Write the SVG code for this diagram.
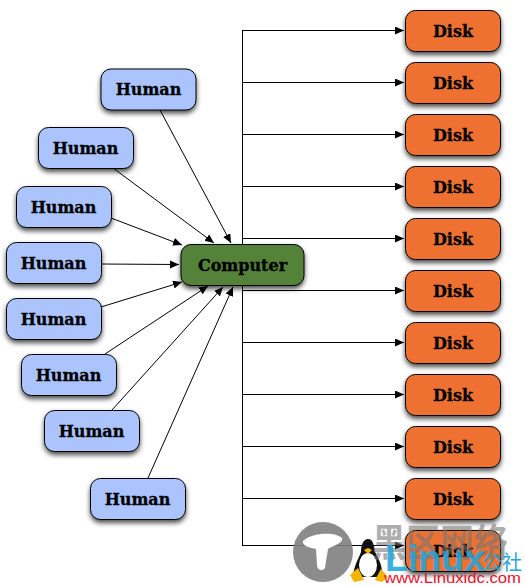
<svg xmlns="http://www.w3.org/2000/svg" width="525" height="587" viewBox="0 0 525 587">
<style>
.box{stroke:#000;stroke-width:1;filter:url(#sh)}
.h{fill:#abc4fd}.d{fill:#ef7131}.c{fill:#528239}
.t{font-family:"DejaVu Serif",serif;font-weight:700;font-size:16px;text-anchor:middle;fill:#000;stroke:#000;stroke-width:.3}
.l{fill:none;stroke:#000;stroke-width:1;marker-end:url(#a)}
</style>
<defs>
<filter id="sh" x="-20%" y="-20%" width="140%" height="150%"><feDropShadow dx="0" dy="3" stdDeviation="2.500" flood-color="#000" flood-opacity=".7"/></filter>
<marker id="a" markerUnits="userSpaceOnUse" markerWidth="10" markerHeight="9" refX="9" refY="4" orient="auto"><path d="M0 0L9 4L0 8Z" fill="#000"/></marker>
</defs>
<g id="connectors">
<path d="M242.500 30V545" fill="none" stroke="#000"/>
<path class="l" d="M242 30.500H404"/><path class="l" d="M242 82.500H404"/><path class="l" d="M242 134.500H404"/><path class="l" d="M242 186.500H404"/><path class="l" d="M242 238.500H404"/><path class="l" d="M242 290.500H404"/><path class="l" d="M242 342.500H404"/><path class="l" d="M242 394.500H404"/><path class="l" d="M242 446.500H404"/><path class="l" d="M242 498.500H404"/><path class="l" d="M242 545.500H404"/>
<path class="l" d="M160 110L231 243"/><path class="l" d="M113 168L214 243"/><path class="l" d="M111 218L182 245"/><path class="l" d="M101 264L179 264.500"/><path class="l" d="M101 307L182 282"/><path class="l" d="M105 354L208 286"/><path class="l" d="M112 410L223 287"/><path class="l" d="M148 478L233 287"/>
</g>
<g id="human1"><rect class="box h" x="101" y="69" width="95" height="41" rx="10"/><text class="t" x="148.500" y="95">Human</text></g>
<g id="human2"><rect class="box h" x="38.500" y="127.500" width="95" height="41" rx="10"/><text class="t" x="85.500" y="154">Human</text></g>
<g id="human3"><rect class="box h" x="16.500" y="186.500" width="95" height="41" rx="10"/><text class="t" x="63.500" y="213">Human</text></g>
<g id="human4"><rect class="box h" x="6.500" y="242.500" width="95" height="41" rx="10"/><text class="t" x="53.500" y="269">Human</text></g>
<g id="human5"><rect class="box h" x="6.500" y="298.500" width="95" height="41" rx="10"/><text class="t" x="53.500" y="325">Human</text></g>
<g id="human6"><rect class="box h" x="21.500" y="354.500" width="95" height="41" rx="10"/><text class="t" x="68.500" y="381">Human</text></g>
<g id="human7"><rect class="box h" x="44.500" y="410.500" width="95" height="41" rx="10"/><text class="t" x="91.500" y="437">Human</text></g>
<g id="human8"><rect class="box h" x="90.500" y="478.500" width="95" height="41" rx="10"/><text class="t" x="137.500" y="505">Human</text></g>
<g id="computer"><rect class="box c" x="181" y="244.500" width="123" height="41" rx="10"/><text class="t" x="242.500" y="271">Computer</text></g>
<g id="disk1"><rect class="box d" x="405.500" y="10.500" width="95" height="41" rx="10"/><text class="t" x="453" y="37">Disk</text></g>
<g id="disk2"><rect class="box d" x="405.500" y="62.500" width="95" height="41" rx="10"/><text class="t" x="453" y="89">Disk</text></g>
<g id="disk3"><rect class="box d" x="405.500" y="114.500" width="95" height="41" rx="10"/><text class="t" x="453" y="141">Disk</text></g>
<g id="disk4"><rect class="box d" x="405.500" y="166.500" width="95" height="41" rx="10"/><text class="t" x="453" y="193">Disk</text></g>
<g id="disk5"><rect class="box d" x="405.500" y="218.500" width="95" height="41" rx="10"/><text class="t" x="453" y="245">Disk</text></g>
<g id="disk6"><rect class="box d" x="405.500" y="270.500" width="95" height="41" rx="10"/><text class="t" x="453" y="297">Disk</text></g>
<g id="disk7"><rect class="box d" x="405.500" y="322.500" width="95" height="41" rx="10"/><text class="t" x="453" y="349">Disk</text></g>
<g id="disk8"><rect class="box d" x="405.500" y="374.500" width="95" height="41" rx="10"/><text class="t" x="453" y="401">Disk</text></g>
<g id="disk9"><rect class="box d" x="405.500" y="426.500" width="95" height="41" rx="10"/><text class="t" x="453" y="453">Disk</text></g>
<g id="disk10"><rect class="box d" x="405.500" y="478.500" width="95" height="41" rx="10"/><text class="t" x="453" y="505">Disk</text></g>
<g id="disk11"><rect class="box d" x="405.500" y="530.500" width="95" height="41" rx="10"/><text class="t" x="453" y="557">Disk</text></g>
<g id="watermark">
<circle cx="323" cy="552" r="30" fill="#808080" fill-opacity=".9"/>
<path d="M303 541C310 533 335 531 342 538C344 543 332 546 328 549L325 568C322 572 317 570 317 565L316 549C310 548 302 546 303 541Z" fill="#fff"/>
<path d="M353 577C354 565 358 560 361 552C361 544 364 539 368 539C373 539 374 545 375 552C380 561 383 568 382 577Z" fill="#111"/>
<ellipse cx="368" cy="565" rx="9" ry="12" fill="#fff"/>
<path d="M350 575L358 568L364 580L354 582ZM375 580L381 569L388 577L382 582Z" fill="#f4b400"/>
<path d="M364 550L368 548L372 550L368 554Z" fill="#f4b400"/>
<text x="372" y="556" font-family="'Noto Sans CJK SC',sans-serif" font-size="38" font-weight="700" fill="#777" fill-opacity=".6" textLength="136" lengthAdjust="spacingAndGlyphs">黑区网络</text>
<text x="385" y="571" font-family="'Liberation Sans',sans-serif" font-size="36" font-weight="700" fill="#1fa6dc" fill-opacity=".9" textLength="100" lengthAdjust="spacingAndGlyphs">Linux</text>
<text x="482" y="570" font-family="'Noto Sans CJK SC',sans-serif" font-size="20" fill="#1fa6dc">公社</text>
<text x="384" y="583" font-family="'Liberation Sans',sans-serif" font-size="14.500" fill="#e8112d" textLength="137" lengthAdjust="spacingAndGlyphs">www.Linuxidc.com</text>
</g>
</svg>
